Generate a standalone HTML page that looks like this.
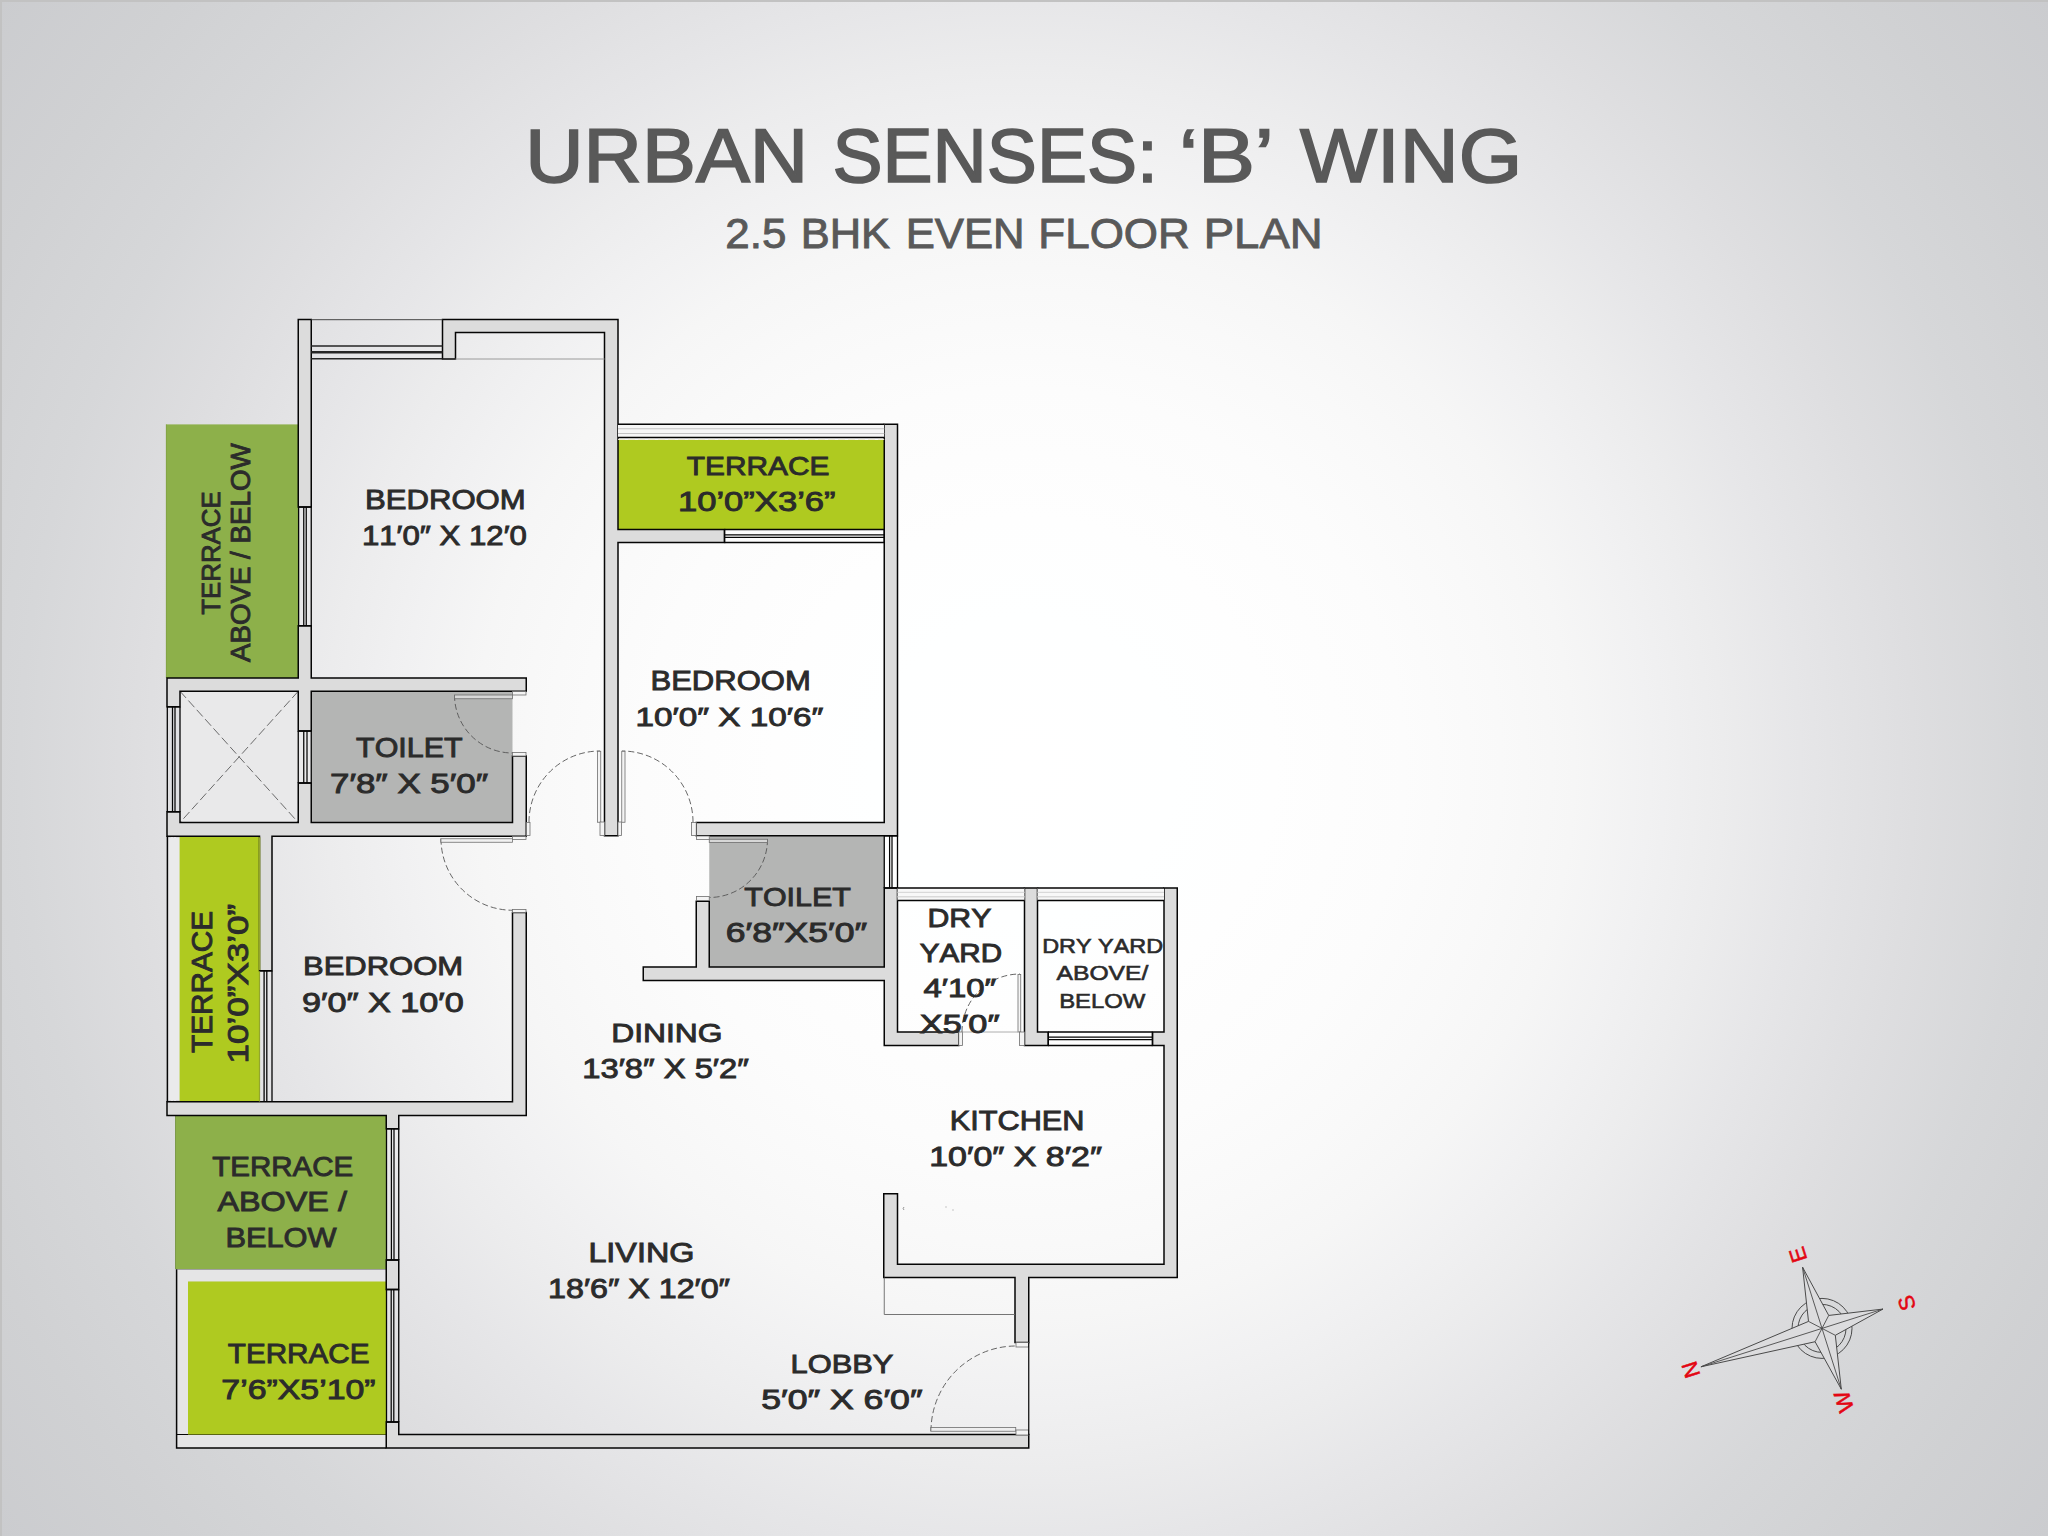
<!DOCTYPE html>
<html lang="en">
<head>
<meta charset="utf-8">
<title>Urban Senses: 'B' Wing - 2.5 BHK Even Floor Plan</title>
<style>
html,body{margin:0;padding:0;background:#e4e4e5;}
body{width:2048px;height:1536px;overflow:hidden;}
svg{display:block;font-family:"Liberation Sans",sans-serif;font-kerning:none;}
svg text{font-kerning:none;white-space:pre;}
</style>
</head>
<body>
<svg width="2048" height="1536" viewBox="0 0 2048 1536">
<defs>
<radialGradient id="bg" gradientUnits="userSpaceOnUse" cx="1024" cy="768" r="1400"><stop offset="0.0000" stop-color="#ffffff"/><stop offset="0.1071" stop-color="#feffff"/><stop offset="0.1786" stop-color="#fefefe"/><stop offset="0.2714" stop-color="#fcfcfc"/><stop offset="0.3400" stop-color="#f9f9f9"/><stop offset="0.3929" stop-color="#f6f6f6"/><stop offset="0.4471" stop-color="#f1f1f2"/><stop offset="0.5000" stop-color="#ececed"/><stop offset="0.5543" stop-color="#e6e6e8"/><stop offset="0.6357" stop-color="#dedee0"/><stop offset="0.7171" stop-color="#d6d7d9"/><stop offset="0.8143" stop-color="#d0d1d3"/><stop offset="0.9143" stop-color="#cbcccf"/><stop offset="1.0000" stop-color="#c8c9cc"/></radialGradient>
</defs>
<rect x="0" y="0" width="2048" height="1536" fill="url(#bg)"/>
<rect x="0" y="0" width="2048" height="2" fill="#c2c2c2"/><rect x="0" y="0" width="2" height="1536" fill="#c2c2c2"/>
<rect x="167" y="836.25" width="13" height="265.5" fill="#eaeaeb"/>
<path d="M167.4,836 V1101.75" stroke="#050505" stroke-width="1.5" fill="none"/>
<path d="M167,836.6 H180 M167,1101.4 H180" stroke="#333" stroke-width="1" stroke-dasharray="4,2,1,2" fill="none"/>
<rect x="176.25" y="1269" width="210" height="12.5" fill="#e5e5e6"/>
<rect x="176.25" y="1269" width="11.75" height="179" fill="#e5e5e6"/>
<rect x="176.25" y="1434.5" width="210" height="13.5" fill="#e5e5e6"/>
<path d="M176.6,1269 V1448 H386.25" stroke="#050505" stroke-width="1.5" fill="none"/>
<path d="M176.25,1434.5 H386.25" stroke="#050505" stroke-width="1" fill="none"/>
<path d="M176.25,1269.3 H386.25" stroke="#777" stroke-width="0.8" fill="none"/>
<rect x="166" y="424.4" width="132.25" height="253.6" fill="#8db04a"/>
<rect x="618" y="440" width="266.25" height="89.5" fill="#afca20"/>
<rect x="179.6" y="836.25" width="79.9" height="265.5" fill="#afca20"/>
<rect x="175.5" y="1115.5" width="210.75" height="153.5" fill="#8db04a"/>
<rect x="188" y="1281.5" width="198" height="153" fill="#afca20"/>
<rect x="311.25" y="691.25" width="201.25" height="131.25" fill="#b4b5b4"/>
<rect x="709.25" y="835.75" width="175" height="131.25" fill="#b4b5b4"/>
<path d="M166.3,424.4 V678" stroke="#7a9a40" stroke-width="0.6" fill="none"/>
<path d="M175.5,1115.5 V1269" stroke="#6f8f38" stroke-width="0.8" fill="none"/>
<rect x="180" y="691.25" width="118.25" height="131.25" fill="#e9e9ea"/>
<path d="M180,691.25 L298.25,822.5 M298.25,691.25 L180,822.5" stroke="#6a6a6a" stroke-width="1" stroke-dasharray="9,3.5" fill="none"/>
<path d="M442.50,319.50 L442.50,332.50 L442.50,359.00 L455.50,359.00 L455.50,332.50 L604.50,332.50 L604.50,835.75 L618.00,835.75 L618.00,542.50 L724.50,542.50 L724.50,529.50 L618.00,529.50 L618.00,332.50 L618.00,319.50 L604.50,319.50 L455.50,319.50Z M167.00,691.25 L167.00,706.75 L180.00,706.75 L180.00,691.25 L298.25,691.25 L298.25,731.00 L311.25,731.00 L311.25,691.25 L526.25,691.25 L526.25,678.00 L311.25,678.00 L311.25,625.75 L298.25,625.75 L298.25,678.00 L180.00,678.00 L167.00,678.00Z M167.00,822.50 L167.00,836.25 L180.00,836.25 L259.50,836.25 L259.50,970.75 L272.00,970.75 L272.00,836.25 L298.25,836.25 L311.25,836.25 L512.50,836.25 L526.25,836.25 L526.25,822.50 L526.25,756.00 L512.50,756.00 L512.50,822.50 L311.25,822.50 L311.25,783.00 L298.25,783.00 L298.25,822.50 L180.00,822.50 L180.00,811.75 L167.00,811.75Z M167.00,1101.75 L167.00,1115.50 L259.50,1115.50 L272.00,1115.50 L386.25,1115.50 L386.25,1128.75 L398.75,1128.75 L398.75,1115.50 L512.50,1115.50 L526.25,1115.50 L526.25,1101.75 L526.25,912.50 L512.50,912.50 L512.50,1101.75 L272.00,1101.75 L259.50,1101.75Z M386.25,1289.50 L398.75,1289.50 L398.75,1260.00 L386.25,1260.00Z M386.25,1434.50 L386.25,1448.00 L398.75,1448.00 L1028.75,1448.00 L1028.75,1434.50 L398.75,1434.50 L398.75,1422.00 L386.25,1422.00Z M311.25,319.50 L298.25,319.50 L298.25,507.00 L311.25,507.00Z M696.25,835.75 L884.25,835.75 L897.50,835.75 L897.50,822.50 L897.50,424.25 L884.25,424.25 L884.25,529.50 L884.25,542.50 L884.25,822.50 L696.25,822.50Z M884.25,967.00 L709.25,967.00 L709.25,901.25 L696.25,901.25 L696.25,967.00 L643.25,967.00 L643.25,980.50 L696.25,980.50 L709.25,980.50 L884.25,980.50 L884.25,1032.00 L884.25,1045.50 L897.50,1045.50 L958.75,1045.50 L958.75,1032.00 L897.50,1032.00 L897.50,980.50 L897.50,967.00 L897.50,888.00 L884.25,888.00Z M1048.25,1032.00 L1037.50,1032.00 L1037.50,888.00 L1024.50,888.00 L1024.50,1032.00 L1024.50,1045.50 L1037.50,1045.50 L1048.25,1045.50Z M1152.50,1045.50 L1164.00,1045.50 L1164.00,1264.25 L1028.75,1264.25 L1015.00,1264.25 L897.50,1264.25 L897.50,1193.75 L883.75,1193.75 L883.75,1264.25 L883.75,1277.50 L897.50,1277.50 L1015.00,1277.50 L1015.00,1342.50 L1028.75,1342.50 L1028.75,1277.50 L1164.00,1277.50 L1177.25,1277.50 L1177.25,1264.25 L1177.25,1045.50 L1177.25,1032.00 L1177.25,888.00 L1164.00,888.00 L1164.00,1032.00 L1152.50,1032.00Z" fill="#dcdcdc" stroke="#050505" stroke-width="1.5" stroke-linejoin="miter" fill-rule="evenodd"/>
<rect x="298.6" y="507" width="12.649999999999977" height="118.75" fill="none"/><path d="M298.6,507 H311.25 M298.6,625.75 H311.25 M298.6,507 V625.75 M311.25,507 V625.75 " stroke="#050505" stroke-width="1.3" fill="none"/><path d="M303.75,507 V625.75 M306.25,507 V625.75 " stroke="#050505" stroke-width="1.25" fill="none"/>
<rect x="298.25" y="731" width="13.0" height="52" fill="none"/><path d="M298.25,731 H311.25 M298.25,783 H311.25 M298.25,731 V783 M311.25,731 V783 " stroke="#050505" stroke-width="1.3" fill="none"/><path d="M303.75,731 V783 M307,731 V783 " stroke="#050505" stroke-width="1.25" fill="none"/>
<rect x="167.3" y="706.75" width="12.699999999999989" height="105.0" fill="none"/><path d="M167.3,706.75 H180 M167.3,811.75 H180 M167.3,706.75 V811.75 M180,706.75 V811.75 " stroke="#050505" stroke-width="1.3" fill="none"/><path d="M172.5,706.75 V811.75 M175,706.75 V811.75 " stroke="#050505" stroke-width="1.25" fill="none"/>
<path d="M259.5,837.2 V970" stroke="#93a52c" stroke-width="1.7" fill="none"/>
<path d="M259.5,970.75 H272 M272,970.75 V1101.75 M264.1,970.75 V1101.75 M266.8,970.75 V1101.75" stroke="#050505" stroke-width="1.3" fill="none"/>
<path d="M259.5,971.5 V1101.5" stroke="#93a52c" stroke-width="1.2" fill="none"/>
<rect x="386.5" y="1128.75" width="12.25" height="131.25" fill="none"/><path d="M386.5,1128.75 H398.75 M386.5,1260 H398.75 M386.5,1128.75 V1260 M398.75,1128.75 V1260 " stroke="#050505" stroke-width="1.3" fill="none"/><path d="M391.4,1128.75 V1260 M394,1128.75 V1260 " stroke="#050505" stroke-width="1.25" fill="none"/>
<rect x="386.5" y="1289.5" width="12.25" height="132.5" fill="none"/><path d="M386.5,1289.5 H398.75 M386.5,1422 H398.75 M386.5,1289.5 V1422 M398.75,1289.5 V1422 " stroke="#050505" stroke-width="1.3" fill="none"/><path d="M391.2,1289.5 V1422 M393.8,1289.5 V1422 " stroke="#050505" stroke-width="1.25" fill="none"/>
<rect x="884.25" y="835.75" width="13.25" height="52.25" fill="none"/><path d="M884.25,835.75 H897.5 M884.25,888 H897.5 M884.25,835.75 V888 M897.5,835.75 V888 " stroke="#050505" stroke-width="1.3" fill="none"/><path d="M889.6,835.75 V888 M892,835.75 V888 " stroke="#050505" stroke-width="1.25" fill="none"/>
<path d="M311.25,345.9 H442.5 M311.25,358.8 H442.5" stroke="#262626" stroke-width="1.5" fill="none"/><path d="M311.25,352.3 H442.5" stroke="#262626" stroke-width="2.6" fill="none"/>
<rect x="724.5" y="529.5" width="159.75" height="13.0" fill="none"/><path d="M724.5,529.5 V542.5 M884.25,529.5 V542.5 M724.5,529.5 H884.25 M724.5,542.5 H884.25 " stroke="#050505" stroke-width="1.3" fill="none"/><path d="M724.5,534.8 H884.25 M724.5,537.4 H884.25 " stroke="#050505" stroke-width="1.25" fill="none"/>
<rect x="1048.25" y="1032" width="104.25" height="13.5" fill="none"/><path d="M1048.25,1032 V1045.5 M1152.5,1032 V1045.5 M1048.25,1032 H1152.5 M1048.25,1045.5 H1152.5 " stroke="#050505" stroke-width="1.3" fill="none"/><path d="M1048.25,1037 H1152.5 M1048.25,1039.5 H1152.5 " stroke="#050505" stroke-width="1.25" fill="none"/>
<path d="M311.25,319.7 H442.5" stroke="#444" stroke-width="1" fill="none"/>
<path d="M455.5,359 H604.5" stroke="#9a9a9a" stroke-width="1" fill="none"/>
<rect x="618" y="424.25" width="266.25" height="13.25" fill="#f6f6f6"/>
<path d="M618,428.75 H884.25 M618,433.5 H884.25" stroke="#c4c4c4" stroke-width="1" fill="none"/>
<path d="M618,424.25 H884.25 M618,437.5 H884.25" stroke="#050505" stroke-width="1.4" fill="none"/>
<path d="M618,439.4 H884.25" stroke="#f3f0d8" stroke-width="1" stroke-dasharray="7,3" fill="none"/>
<rect x="897.5" y="888" width="127.0" height="12.5" fill="#f8f8f8"/>
<path d="M897.5,892.4 H1024.5 M897.5,896.8 H1024.5" stroke="#d9d9d9" stroke-width="1.4" fill="none"/>
<path d="M897.5,888 H1024.5 M897.5,900.5 H1024.5" stroke="#050505" stroke-width="1.4" fill="none"/>
<rect x="1037.5" y="888" width="126.5" height="12.5" fill="#f8f8f8"/>
<path d="M1037.5,892.4 H1164 M1037.5,896.8 H1164" stroke="#d9d9d9" stroke-width="1.4" fill="none"/>
<path d="M1037.5,888 H1164 M1037.5,900.5 H1164" stroke="#050505" stroke-width="1.4" fill="none"/>
<path d="M454.50,695.00 A58,58 0 0 0 512.50,753.00" stroke="#555" stroke-width="0.9" stroke-dasharray="6,3" fill="none"/><rect x="454.5" y="695" width="58" height="3.75" fill="#efefef" fill-opacity="0.6" stroke="#6e6e6e" stroke-width="0.8"/><rect x="512.5" y="691.5" width="13.5" height="3.5" fill="#f4f4f4" stroke="#6e6e6e" stroke-width="0.8"/><rect x="512.5" y="752.5" width="13.5" height="3.5" fill="#f4f4f4" stroke="#6e6e6e" stroke-width="0.8"/>
<path d="M441.00,838.75 A71.5,71.5 0 0 0 512.50,910.25" stroke="#555" stroke-width="0.9" stroke-dasharray="6,3" fill="none"/><rect x="440.75" y="838.75" width="71.75" height="3.5" fill="#efefef" fill-opacity="0.6" stroke="#6e6e6e" stroke-width="0.8"/><rect x="512.5" y="836.5" width="13.5" height="3" fill="#f4f4f4" stroke="#6e6e6e" stroke-width="0.8"/><rect x="512.5" y="909.5" width="13.5" height="3" fill="#f4f4f4" stroke="#6e6e6e" stroke-width="0.8"/>
<path d="M529.00,822.00 A71,71 0 0 1 600.00,751.00" stroke="#555" stroke-width="0.9" stroke-dasharray="6,3" fill="none"/><rect x="597.5" y="751.25" width="3.25" height="71" fill="#efefef" fill-opacity="0.6" stroke="#6e6e6e" stroke-width="0.8"/><rect x="526.4" y="822.5" width="3.6" height="13" fill="#f4f4f4" stroke="#6e6e6e" stroke-width="0.8"/><rect x="600" y="822" width="4.5" height="13.5" fill="#f4f4f4" stroke="#6e6e6e" stroke-width="0.8"/>
<path d="M693.00,822.00 A71,71 0 0 0 622.00,751.00" stroke="#555" stroke-width="0.9" stroke-dasharray="6,3" fill="none"/><rect x="621.75" y="751.25" width="3.25" height="71" fill="#efefef" fill-opacity="0.6" stroke="#6e6e6e" stroke-width="0.8"/><rect x="618" y="822" width="3.5" height="13.5" fill="#f4f4f4" stroke="#6e6e6e" stroke-width="0.8"/><rect x="691.5" y="822.5" width="4.75" height="13" fill="#f4f4f4" stroke="#6e6e6e" stroke-width="0.8"/>
<path d="M767.50,839.25 A58.25,58.25 0 0 1 709.25,897.50" stroke="#555" stroke-width="0.9" stroke-dasharray="6,3" fill="none"/><rect x="709.25" y="839.25" width="58.25" height="3.25" fill="#efefef" fill-opacity="0.6" stroke="#6e6e6e" stroke-width="0.8"/><rect x="696.5" y="836" width="12.75" height="3.5" fill="#f4f4f4" stroke="#6e6e6e" stroke-width="0.8"/><rect x="696.5" y="896.5" width="12.75" height="4" fill="#f4f4f4" stroke="#6e6e6e" stroke-width="0.8"/>
<path d="M962.00,1032.00 A58,58 0 0 1 1020.00,974.00" stroke="#555" stroke-width="0.9" stroke-dasharray="6,3" fill="none"/><rect x="1018" y="974.5" width="2.75" height="57.5" fill="#efefef" fill-opacity="0.6" stroke="#6e6e6e" stroke-width="0.8"/><rect x="958.75" y="1032" width="3.75" height="13.5" fill="#f4f4f4" stroke="#6e6e6e" stroke-width="0.8"/><rect x="1019.5" y="1032" width="5" height="13.5" fill="#f4f4f4" stroke="#6e6e6e" stroke-width="0.8"/>
<path d="M962.5,1032 H1018" stroke="#999" stroke-width="0.8" fill="none"/>
<path d="M931.00,1431.00 A85,85 0 0 1 1016.00,1346.00" stroke="#555" stroke-width="0.9" stroke-dasharray="6,3" fill="none"/><rect x="930.75" y="1427.5" width="85" height="3.75" fill="#efefef" fill-opacity="0.6" stroke="#6e6e6e" stroke-width="0.8"/><rect x="1016" y="1342.5" width="12.5" height="4.5" fill="#f4f4f4" stroke="#6e6e6e" stroke-width="0.8"/><rect x="1016" y="1430" width="12.5" height="5" fill="#f4f4f4" stroke="#6e6e6e" stroke-width="0.8"/>
<path d="M1028.75,1342.5 V1435" stroke="#050505" stroke-width="1.2" fill="none"/>
<path d="M884.25,1277.5 V1314.5 H1015" stroke="#666" stroke-width="0.9" fill="none"/>
<path d="M904,1207 a2,2 0 0 0 0,3 M946,1206.5 v1 M952.5,1210 h1" stroke="#777" stroke-width="0.8" fill="none"/>
<text transform="translate(525.17,181.65) scale(1.0687,1)" font-size="75.66" fill="#595959" stroke="#595959" stroke-width="1.7">URBAN</text>
<text transform="translate(832.43,181.65) scale(0.9927,1)" font-size="75.66" fill="#595959" stroke="#595959" stroke-width="1.7">SENSES:</text>
<text transform="translate(1178.91,181.65) scale(1.1290,1)" font-size="75.66" fill="#595959" stroke="#595959" stroke-width="1.7">‘B’</text>
<text transform="translate(1300.06,181.65) scale(1.0787,1)" font-size="75.66" fill="#595959" stroke="#595959" stroke-width="1.7">WING</text>
<text transform="translate(725.26,247.55) scale(1.0484,1)" font-size="41.93" fill="#595959" stroke="#595959" stroke-width="0.9">2.5</text>
<text transform="translate(800.65,247.55) scale(1.0365,1)" font-size="41.93" fill="#595959" stroke="#595959" stroke-width="0.9">BHK</text>
<text transform="translate(905.64,247.55) scale(1.0417,1)" font-size="41.93" fill="#595959" stroke="#595959" stroke-width="0.9">EVEN</text>
<text transform="translate(1038.37,247.55) scale(1.0484,1)" font-size="41.93" fill="#595959" stroke="#595959" stroke-width="0.9">FLOOR</text>
<text transform="translate(1203.75,247.55) scale(1.0861,1)" font-size="41.93" fill="#595959" stroke="#595959" stroke-width="0.9">PLAN</text>
<text transform="translate(364.96,509.05) scale(1.1513,1)" font-size="27.04" fill="#2b2b2b" stroke="#2b2b2b" stroke-width="0.9">BEDROOM</text>
<text transform="translate(361.89,545.05) scale(1.1392,1)" font-size="27.40" fill="#2b2b2b" stroke="#2b2b2b" stroke-width="0.9">11′0″ X 12′0</text>
<text transform="translate(356.07,757.05) scale(1.1266,1)" font-size="27.04" fill="#2b2b2b" stroke="#2b2b2b" stroke-width="0.9">TOILET</text>
<text transform="translate(330.04,792.80) scale(1.2902,1)" font-size="27.04" fill="#2b2b2b" stroke="#2b2b2b" stroke-width="0.9">7′8″ X 5′0″</text>
<text transform="translate(302.98,975.05) scale(1.1631,1)" font-size="26.67" fill="#2b2b2b" stroke="#2b2b2b" stroke-width="0.9">BEDROOM</text>
<text transform="translate(301.97,1011.55) scale(1.2646,1)" font-size="27.04" fill="#2b2b2b" stroke="#2b2b2b" stroke-width="0.9">9′0″ X 10′0</text>
<text transform="translate(686.83,475.05) scale(1.1197,1)" font-size="26.67" fill="#2b2b2b" stroke="#2b2b2b" stroke-width="0.9">TERRACE</text>
<text transform="translate(677.93,511.30) scale(1.2633,1)" font-size="27.40" fill="#2b2b2b" stroke="#2b2b2b" stroke-width="0.9">10’0”X3’6”</text>
<text transform="translate(650.47,690.30) scale(1.1476,1)" font-size="27.04" fill="#2b2b2b" stroke="#2b2b2b" stroke-width="0.9">BEDROOM</text>
<text transform="translate(635.53,726.30) scale(1.2477,1)" font-size="26.67" fill="#2b2b2b" stroke="#2b2b2b" stroke-width="0.9">10′0″ X 10′6″</text>
<text transform="translate(744.33,906.30) scale(1.1418,1)" font-size="26.67" fill="#2b2b2b" stroke="#2b2b2b" stroke-width="0.9">TOILET</text>
<text transform="translate(725.79,941.55) scale(1.3148,1)" font-size="27.04" fill="#2b2b2b" stroke="#2b2b2b" stroke-width="0.9">6′8″X5′0″</text>
<text transform="translate(927.53,927.05) scale(1.1343,1)" font-size="26.67" fill="#2b2b2b" stroke="#2b2b2b" stroke-width="0.9">DRY</text>
<text transform="translate(919.86,962.05) scale(1.1416,1)" font-size="25.95" fill="#2b2b2b" stroke="#2b2b2b" stroke-width="0.9">YARD</text>
<text transform="translate(923.55,997.05) scale(1.2343,1)" font-size="26.67" fill="#2b2b2b" stroke="#2b2b2b" stroke-width="0.9">4′10″</text>
<text transform="translate(919.81,1032.55) scale(1.2884,1)" font-size="26.67" fill="#2b2b2b" stroke="#2b2b2b" stroke-width="0.9">X5′0″</text>
<text transform="translate(611.18,1042.05) scale(1.1935,1)" font-size="26.67" fill="#2b2b2b" stroke="#2b2b2b" stroke-width="0.9">DINING</text>
<text transform="translate(582.30,1077.80) scale(1.2109,1)" font-size="27.04" fill="#2b2b2b" stroke="#2b2b2b" stroke-width="0.9">13′8″ X 5′2″</text>
<text transform="translate(1042.18,953.45) scale(1.1810,1)" font-size="19.84" fill="#2b2b2b" stroke="#2b2b2b" stroke-width="0.6">DRY YARD</text>
<text transform="translate(1056.57,980.45) scale(1.2204,1)" font-size="20.20" fill="#2b2b2b" stroke="#2b2b2b" stroke-width="0.6">ABOVE/</text>
<text transform="translate(1059.13,1008.45) scale(1.1423,1)" font-size="20.93" fill="#2b2b2b" stroke="#2b2b2b" stroke-width="0.6">BELOW</text>
<text transform="translate(949.74,1130.30) scale(1.1356,1)" font-size="27.04" fill="#2b2b2b" stroke="#2b2b2b" stroke-width="0.9">KITCHEN</text>
<text transform="translate(929.22,1166.30) scale(1.2403,1)" font-size="27.40" fill="#2b2b2b" stroke="#2b2b2b" stroke-width="0.9">10′0″ X 8′2″</text>
<text transform="translate(588.39,1262.05) scale(1.1957,1)" font-size="27.04" fill="#2b2b2b" stroke="#2b2b2b" stroke-width="0.9">LIVING</text>
<text transform="translate(548.07,1298.30) scale(1.1619,1)" font-size="27.76" fill="#2b2b2b" stroke="#2b2b2b" stroke-width="0.9">18′6″ X 12′0″</text>
<text transform="translate(790.49,1372.55) scale(1.1570,1)" font-size="26.67" fill="#2b2b2b" stroke="#2b2b2b" stroke-width="0.9">LOBBY</text>
<text transform="translate(761.16,1408.80) scale(1.3005,1)" font-size="27.40" fill="#2b2b2b" stroke="#2b2b2b" stroke-width="0.9">5′0″ X 6′0″</text>
<text transform="translate(212.32,1176.30) scale(1.0767,1)" font-size="27.40" fill="#2b2b2b" stroke="#2b2b2b" stroke-width="0.9">TERRACE</text>
<text transform="translate(217.47,1211.30) scale(1.1812,1)" font-size="27.40" fill="#2b2b2b" stroke="#2b2b2b" stroke-width="0.9">ABOVE /</text>
<text transform="translate(225.49,1246.55) scale(1.1378,1)" font-size="27.04" fill="#2b2b2b" stroke="#2b2b2b" stroke-width="0.9">BELOW</text>
<text transform="translate(227.81,1363.30) scale(1.0684,1)" font-size="27.76" fill="#2b2b2b" stroke="#2b2b2b" stroke-width="0.9">TERRACE</text>
<text transform="translate(221.33,1399.05) scale(1.2525,1)" font-size="27.04" fill="#2b2b2b" stroke="#2b2b2b" stroke-width="0.9">7’6”X5’10”</text>
<text transform="translate(219.55,614.63) rotate(-90) scale(0.9945,1)" font-size="25.95" fill="#2b2b2b" stroke="#2b2b2b" stroke-width="0.9">TERRACE</text>
<text transform="translate(250.30,662.09) rotate(-90) scale(1.0253,1)" font-size="27.04" fill="#2b2b2b" stroke="#2b2b2b" stroke-width="0.9">ABOVE / BELOW</text>
<text transform="translate(211.85,1053.01) rotate(-90) scale(1.0138,1)" font-size="29.36" fill="#2b2b2b" stroke="#2b2b2b" stroke-width="0.9">TERRACE</text>
<text transform="translate(247.75,1063.44) rotate(-90) scale(1.1750,1)" font-size="29.80" fill="#2b2b2b" stroke="#2b2b2b" stroke-width="0.9">10’0”X3’0”</text>
<circle cx="1822" cy="1328.4" r="30" fill="none" stroke="#4a4a4a" stroke-width="1"/>
<circle cx="1822" cy="1328.4" r="24" fill="none" stroke="#4a4a4a" stroke-width="1"/>
<polygon points="1700.94,1366.80 1808.51,1321.40 1802.59,1267.21 1828.72,1315.44 1883.00,1309.05 1835.32,1335.30 1841.29,1389.21 1815.10,1341.72" fill="#dcdcde" stroke="#4a4a4a" stroke-width="1" stroke-linejoin="miter"/>
<path d="M1822,1328.4 L1700.94,1366.80 M1822,1328.4 L1802.59,1267.21 M1822,1328.4 L1883.00,1309.05 M1822,1328.4 L1841.29,1389.21 M1822,1328.4 L1808.51,1321.40 M1822,1328.4 L1828.72,1315.44 M1822,1328.4 L1835.32,1335.30 M1822,1328.4 L1815.10,1341.72 " stroke="#4a4a4a" stroke-width="0.9" fill="none"/>
<text transform="translate(1690.8,1369.7) rotate(-107.6)" font-size="22" fill="#e30613" stroke="#e30613" stroke-width="0.5" text-anchor="middle" dy="7.6">N</text>
<text transform="translate(1798.1,1254.9) rotate(-107.6)" font-size="22" fill="#e30613" stroke="#e30613" stroke-width="0.5" text-anchor="middle" dy="7.6">E</text>
<text transform="translate(1906.8,1303.1) rotate(-107.6)" font-size="22" fill="#e30613" stroke="#e30613" stroke-width="0.5" text-anchor="middle" dy="7.6">S</text>
<text transform="translate(1843.9,1401.6) rotate(-107.6)" font-size="22" fill="#e30613" stroke="#e30613" stroke-width="0.5" text-anchor="middle" dy="7.6">W</text>
</svg>
</body>
</html>
